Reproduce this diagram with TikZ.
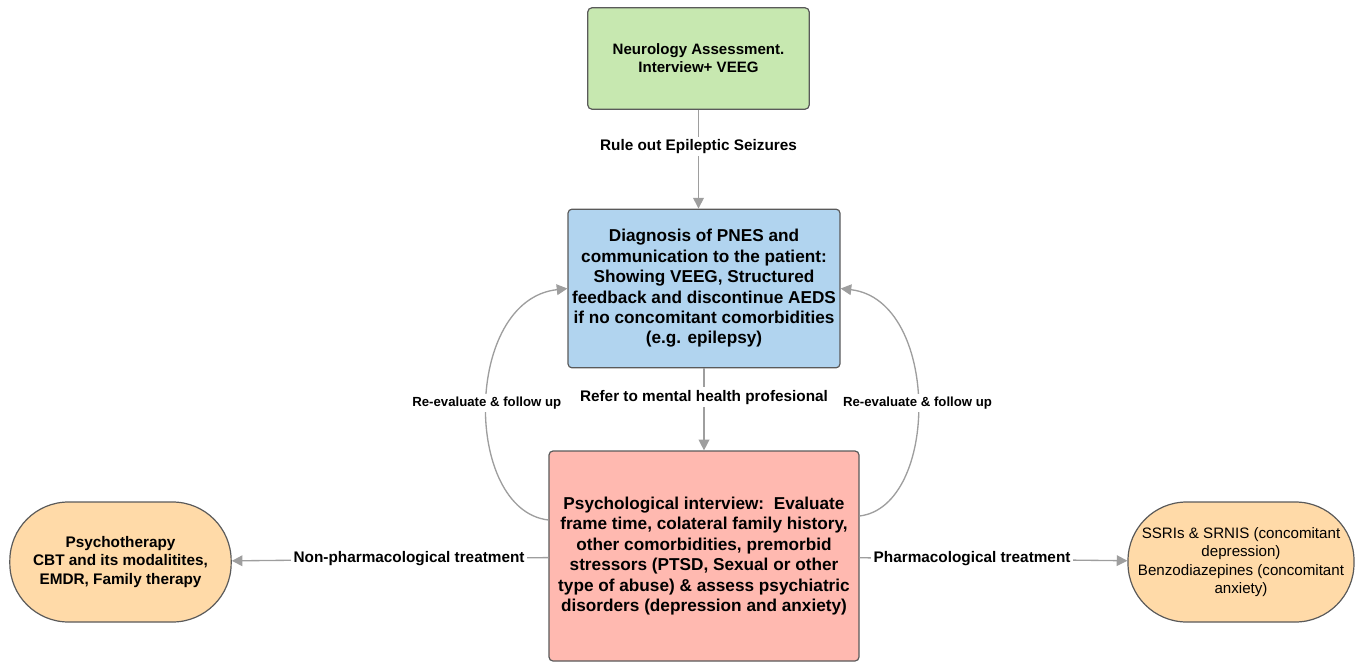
\documentclass[tikz,border=0pt]{standalone}
\usepackage{fontspec}
\setmainfont{Liberation Sans}
\usetikzlibrary{arrows.meta}
\definecolor{neurogreen}{HTML}{C7E8B0}
\definecolor{diagblue}{HTML}{B1D4EF}
\definecolor{psyred}{HTML}{FFB9B0}
\definecolor{treatorange}{HTML}{FFDAA8}
\definecolor{boxline}{HTML}{5A5A5A}
\definecolor{linkgray}{HTML}{9E9E9E}
\begin{document}
\begin{tikzpicture}[x=0.75pt,y=-0.75pt,>={Triangle[width=8pt,length=8pt]}]
    \tikzstyle{block}=[draw=boxline,line width=0.9pt,rounded corners=3pt,align=center,inner sep=0pt,font=\bfseries\fontsize{12.9}{15.3}\selectfont]
    \tikzstyle{treat}=[block,rounded corners=44pt,minimum width=166pt,minimum height=90pt,fill=treatorange,font=\bfseries\fontsize{11.5}{13.9}\selectfont]
    \tikzstyle{link}=[->,draw=linkgray,fill=linkgray,line width=1pt]
    \tikzstyle{linklabel}=[fill=white,inner sep=2pt,text=black,font=\bfseries\fontsize{11.5}{13}\selectfont]
    \tikzstyle{looplabel}=[linklabel,font=\bfseries\fontsize{9.9}{11}\selectfont]

    \useasboundingbox (0,0) rectangle (1355,663);

    % Draw the main column
    \node[block,fill=neurogreen,minimum width=166pt,minimum height=76pt,font=\bfseries\fontsize{11.3}{13.5}\selectfont] (neuro) at (698.5,58.5)
        {Neurology Assessment.\\Interview+ VEEG};
    \node[block,fill=diagblue,minimum width=204pt,minimum height=119pt] (diag) at (704,288.5)
        {Diagnosis of PNES and\\communication to the patient:\\Showing VEEG, Structured\\feedback and discontinue AEDS\\if no concomitant comorbidities\\(e.g. epilepsy)};
    \node[block,fill=psyred,minimum width=232.5pt,minimum height=157.5pt] (psy) at (704,556)
        {Psychological interview:\ \ Evaluate\\frame time, colateral family history,\\other comorbidities, premorbid\\stressors (PTSD, Sexual or other\\type of abuse) \& assess psychiatric\\disorders (depression and anxiety)};

    % Draw the treatment nodes
    \node[treat] (therapy) at (120.5,562)
        {Psychotherapy\\CBT and its modalitites,\\EMDR, Family therapy};
    \node[treat,minimum width=169.5pt,font=\fontsize{11.35}{13.9}\selectfont] (drugs) at (1241,562)
        {SSRIs \& SRNIS (concomitant\\depression)\\Benzodiazepines (concomitant\\anxiety)};

    % Connect the main column
    \draw[link] (neuro.south) -- node[linklabel,pos=0.37] {Rule out Epileptic Seizures} (neuro.south |- diag.north);
    \draw[link] (diag.south) -- node[linklabel,pos=0.35] {Refer to mental health profesional} (psy.north);

    % Treatment branches
    \path[link] (psy) edge node[linklabel,pos=0.44] {Non-pharmacological treatment} (therapy);
    \path[link] (psy) edge node[linklabel,pos=0.42] {Pharmacological treatment} (drugs);

    % Follow up loops
    \draw[link,fill=none] ([yshift=27pt]psy.west) .. controls (463,510) and (463,300) .. (diag.west)
        node[looplabel,pos=0.505] {Re-evaluate \& follow up};
    \draw[link,fill=none] ([yshift=30pt]psy.east) .. controls (940,506) and (940,300) .. (diag.east)
        node[looplabel,pos=0.5] {Re-evaluate \& follow up};
\end{tikzpicture}
\end{document}
